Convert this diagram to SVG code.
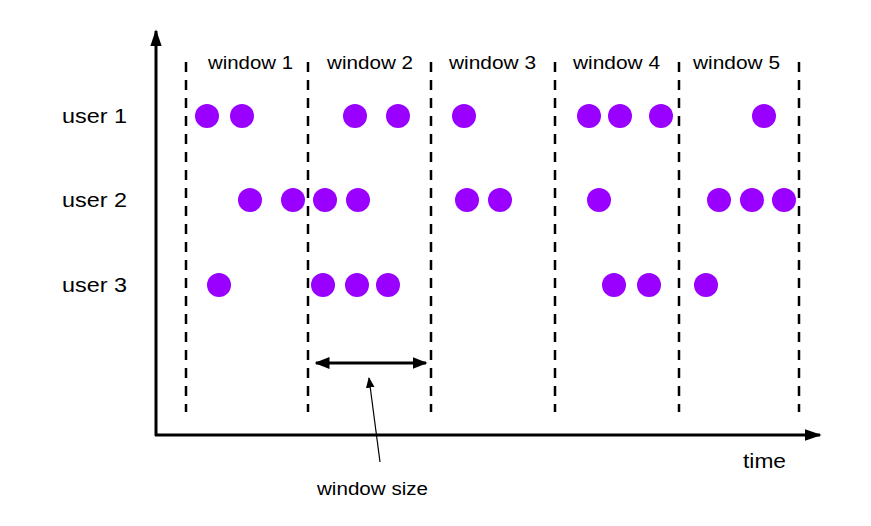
<svg xmlns="http://www.w3.org/2000/svg" width="871" height="526" viewBox="0 0 871 526">
<style>
.dot{fill:#9900ff}
.div{stroke:#000;stroke-width:2.5;stroke-dasharray:10 8;fill:none}
.ax{stroke:#000;stroke-width:3;fill:none}
.lbl{font-family:"Liberation Sans",Arial,sans-serif;fill:#000}
.win{font-size:18px}
.usr{font-size:21px}
</style>
<defs>
<marker id="ah" viewBox="0 0 10 10" refX="9" refY="5" markerWidth="5.6" markerHeight="5.6" markerUnits="strokeWidth" orient="auto"><path d="M0,1.6 L10,5 L0,8.4 Z" fill="#000"/></marker>
<marker id="ahs" viewBox="0 0 10 10" refX="9" refY="5" markerWidth="9" markerHeight="9" markerUnits="strokeWidth" orient="auto"><path d="M0,1 L10,5 L0,9 Z" fill="#000"/></marker>
<marker id="ahd" viewBox="0 0 10 10" refX="9" refY="5" markerWidth="5" markerHeight="5" markerUnits="strokeWidth" orient="auto-start-reverse"><path d="M0,1 L10,5 L0,9 Z" fill="#000"/></marker>
</defs>
<g id="connectors">
<line class="ax" x1="156" y1="436" x2="156" y2="31" marker-end="url(#ah)"/>
<line class="ax" x1="155" y1="435" x2="820" y2="435" marker-end="url(#ah)"/>
<line class="div" x1="186" y1="62" x2="186" y2="412"/>
<line class="div" x1="308" y1="62" x2="308" y2="412"/>
<line class="div" x1="431" y1="62" x2="431" y2="412"/>
<line class="div" x1="555" y1="62" x2="555" y2="412"/>
<line class="div" x1="679" y1="62" x2="679" y2="412"/>
<line class="div" x1="799" y1="62" x2="799" y2="412"/>
<line x1="316" y1="363" x2="426" y2="363" stroke="#000" stroke-width="3" marker-start="url(#ahd)" marker-end="url(#ahd)"/>
<line x1="380" y1="462" x2="369" y2="378" stroke="#000" stroke-width="1.2" marker-end="url(#ahs)"/>
</g>
<g id="labels">
<text class="lbl win" x="208" y="69" textLength="85" lengthAdjust="spacingAndGlyphs">window 1</text>
<text class="lbl win" x="327" y="69" textLength="86" lengthAdjust="spacingAndGlyphs">window 2</text>
<text class="lbl win" x="449" y="69" textLength="87" lengthAdjust="spacingAndGlyphs">window 3</text>
<text class="lbl win" x="573" y="69" textLength="87" lengthAdjust="spacingAndGlyphs">window 4</text>
<text class="lbl win" x="693" y="69" textLength="87" lengthAdjust="spacingAndGlyphs">window 5</text>
<text class="lbl usr" x="62" y="123" textLength="65" lengthAdjust="spacingAndGlyphs">user 1</text>
<text class="lbl usr" x="62" y="207" textLength="65" lengthAdjust="spacingAndGlyphs">user 2</text>
<text class="lbl usr" x="62" y="292" textLength="65" lengthAdjust="spacingAndGlyphs">user 3</text>
<text class="lbl usr" x="743" y="468" textLength="43" lengthAdjust="spacingAndGlyphs">time</text>
<text class="lbl win" x="317" y="495" textLength="111" lengthAdjust="spacingAndGlyphs">window size</text>
</g>
<g id="user1">
<circle class="dot" cx="207" cy="116" r="12"/><circle class="dot" cx="242" cy="116" r="12"/>
<circle class="dot" cx="355" cy="116" r="12"/><circle class="dot" cx="398" cy="116" r="12"/>
<circle class="dot" cx="464" cy="116" r="12"/><circle class="dot" cx="589" cy="116" r="12"/>
<circle class="dot" cx="620" cy="116" r="12"/><circle class="dot" cx="661" cy="116" r="12"/>
<circle class="dot" cx="764" cy="116" r="12"/>
</g>
<g id="user2">
<circle class="dot" cx="250" cy="200" r="12"/><circle class="dot" cx="293" cy="200" r="12"/>
<circle class="dot" cx="325" cy="200" r="12"/><circle class="dot" cx="358" cy="200" r="12"/>
<circle class="dot" cx="467" cy="200" r="12"/><circle class="dot" cx="500" cy="200" r="12"/>
<circle class="dot" cx="599" cy="200" r="12"/><circle class="dot" cx="719" cy="200" r="12"/>
<circle class="dot" cx="752" cy="200" r="12"/><circle class="dot" cx="784" cy="200" r="12"/>
</g>
<g id="user3">
<circle class="dot" cx="219" cy="285" r="12"/><circle class="dot" cx="323" cy="285" r="12"/>
<circle class="dot" cx="357" cy="285" r="12"/><circle class="dot" cx="388" cy="285" r="12"/>
<circle class="dot" cx="614" cy="285" r="12"/><circle class="dot" cx="649" cy="285" r="12"/>
<circle class="dot" cx="706" cy="285" r="12"/>
</g>
</svg>
